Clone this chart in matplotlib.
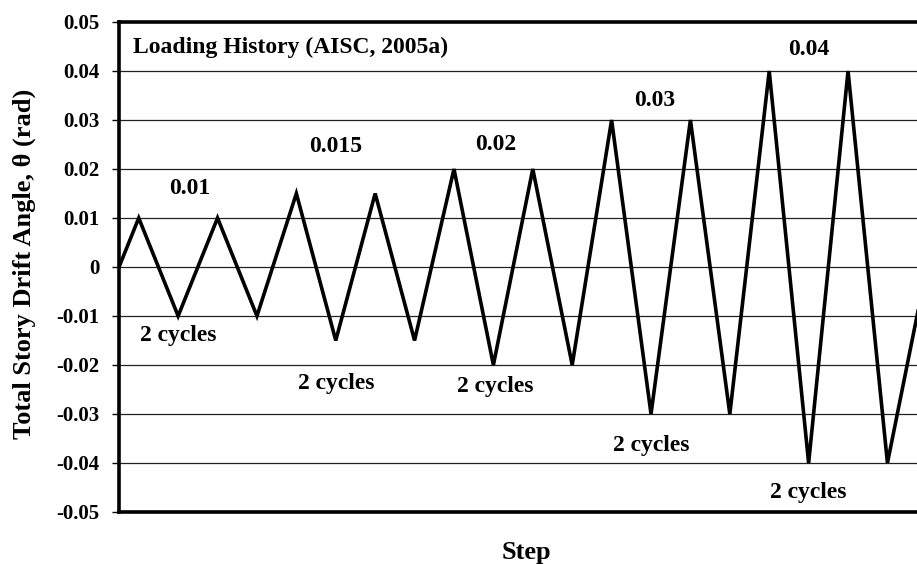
import matplotlib.pyplot as plt

# loading protocol: peak drift angles (rad) at each step
steps = [0, 1, 3, 5, 7, 9, 11, 13, 15, 17, 19, 21, 23, 25, 27, 29, 31, 33, 35, 37, 39, 41]
drift = [0, 0.01, -0.01, 0.01, -0.01, 0.015, -0.015, 0.015, -0.015,
         0.02, -0.02, 0.02, -0.02, 0.03, -0.03, 0.03, -0.03,
         0.04, -0.04, 0.04, -0.04, 0.0]

amp_labels = ["0.01", "0.015", "0.02", "0.03", "0.04"]
amp_x = [3.6, 11.0, 19.1, 27.2, 35.0]
amp_y = [0.0161, 0.0245, 0.0249, 0.0339, 0.0443]
cyc_x = [3.0, 11.0, 19.1, 27.0, 35.0]
cyc_y = [-0.0139, -0.0237, -0.0243, -0.0365, -0.0461]

yticks = [0.05, 0.04, 0.03, 0.02, 0.01, 0, -0.01, -0.02, -0.03, -0.04, -0.05]
ytick_labels = ["0.05", "0.04", "0.03", "0.02", "0.01", "0", "-0.01", "-0.02", "-0.03", "-0.04", "-0.05"]

plt.rcParams['font.family'] = ['Liberation Serif', 'DejaVu Serif']
plt.rcParams['font.weight'] = 'bold'

fig = plt.figure(figsize=(9.17, 5.64), dpi=100)
ax = fig.add_axes([0.1298, 0.0922, 0.8702, 0.8688])

ax.plot(steps, drift, color='black', lw=2.6, solid_joinstyle='miter', zorder=3)

ax.set_xlim(0, 40.5)
ax.set_ylim(-0.05, 0.05)
ax.set_yticks(yticks)
ax.set_yticklabels(ytick_labels, fontsize=15, fontweight='bold')
ax.set_xticks([])
ax.tick_params(axis='y', direction='out', length=5, width=1, pad=9)

for y in yticks[1:-1]:
    ax.axhline(y, color='#222222', lw=0.9, zorder=1)

for side in ['left', 'top', 'bottom']:
    ax.spines[side].set_linewidth(2.6)
ax.spines['right'].set_visible(False)

ax.text(0.72, 0.0449, "Loading History (AISC, 2005a)", fontsize=17, fontweight='bold',
        ha='left', va='center')
for lab, x, y in zip(amp_labels, amp_x, amp_y):
    ax.text(x, y, lab, fontsize=17, fontweight='bold', ha='center', va='center')
for x, y in zip(cyc_x, cyc_y):
    ax.text(x, y, "2 cycles", fontsize=17, fontweight='bold', ha='center', va='center')

fig.text(0.027, 0.532, "Total Story Drift Angle, \u03b8 (rad)", fontsize=19,
         fontweight='bold', rotation=90, ha='center', va='center')
fig.text(0.574, 0.021, "Step", fontsize=19, fontweight='bold',
         ha='center', va='center')

fig.savefig("out.png", dpi=100)
